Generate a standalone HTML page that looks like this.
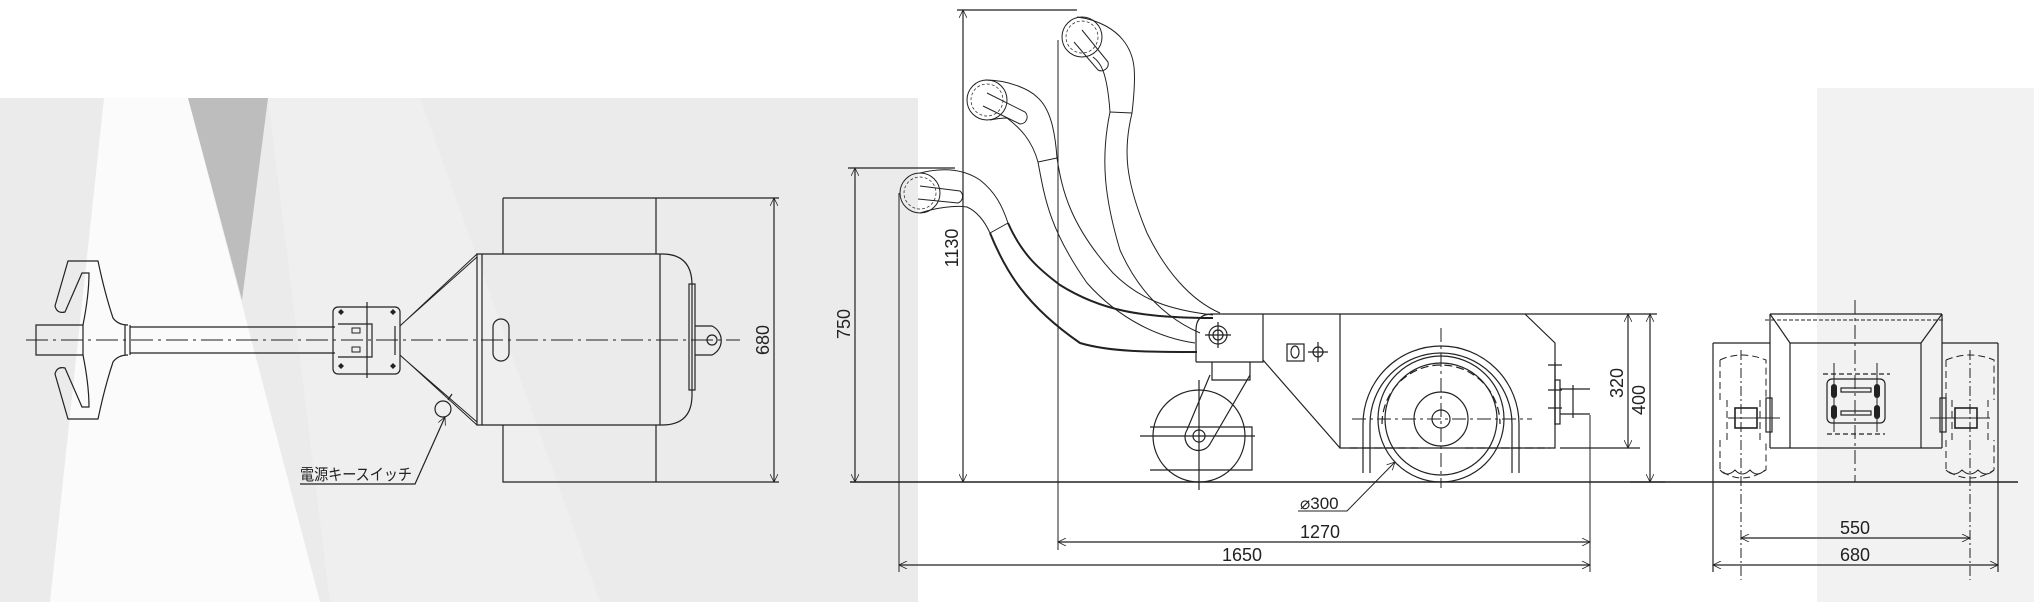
<!DOCTYPE html>
<html><head><meta charset="utf-8"><style>
html,body{margin:0;padding:0;background:#fff;}
svg{display:block;}
text{font-family:"Liberation Sans","Noto Sans CJK JP",sans-serif;fill:#222;}
</style></head><body>
<svg width="2034" height="602" viewBox="0 0 2034 602" xmlns="http://www.w3.org/2000/svg">
<defs>
<marker id="a" viewBox="0 0 10 10" refX="10" refY="5" markerWidth="10" markerHeight="8" orient="auto-start-reverse" markerUnits="userSpaceOnUse"><path d="M0,0 L10,5 L0,10" fill="none" stroke="#222" stroke-width="1"/></marker>
</defs>
<!-- backgrounds -->
<rect x="0" y="98" width="918" height="504" fill="#ebebeb"/>
<polygon points="104,98 188,98 320,602 50,602" fill="#fbfbfb"/>
<polygon points="188,98 268,98 242,300" fill="#bdbdbd"/>
<polygon points="268,98 420,98 600,602 330,602" fill="#efefef"/>
<rect x="1817" y="88" width="217" height="514" fill="#f2f2f2"/>

<g fill="none" stroke="#222" stroke-width="1.2">
<!-- ===== LEFT VIEW ===== -->
<line x1="26" y1="340" x2="740" y2="340" stroke-dasharray="22,5,3,5" stroke-width="1"/>
<path d="M36,325 H83 V355 H36 Z"/>
<path d="M130,327 H335 M130,353 H335 M125,325 V355 M130,325 V355"/>
<path d="M83,325 C86,310 89,290 89,273 H82 L65,312 Q57,314 55,306 L68,261 H98 C102,280 107,300 113,318 Q118,325 128,325"/>
<path d="M83,355 C86,370 89,390 89,407 H82 L65,368 Q57,366 55,374 L68,419 H98 C102,400 107,380 113,362 Q118,355 128,355"/>
<rect x="333" y="307" width="67" height="67" rx="5"/>
<path d="M367,302 V378 M338,324 H372 V357 H338 M395,326 V355"/>
<rect x="352" y="328" width="8" height="5" stroke-width="1"/><rect x="352" y="347" width="8" height="5" stroke-width="1"/>
<g fill="#222" stroke="none"><path d="M341,309 l3,3 -3,3 -3,-3z M393,309 l3,3 -3,3 -3,-3z M341,363 l3,3 -3,3 -3,-3z M393,363 l3,3 -3,3 -3,-3z"/></g>
<path d="M400,326 L477,254 M400,355 L477,425 M402,324 L477,257 M402,357 L477,422" stroke-width="1"/>
<path d="M477,254 H662 Q692,254 692,285 V395 Q692,425 662,425 H477 Z"/>
<path d="M482,254 V425 M660,254 V425"/>
<rect x="689" y="284" width="6" height="106"/>
<path d="M695,326 H712 A16,16 0 0 1 712,355 H695"/>
<circle cx="712" cy="340" r="5"/>
<rect x="493" y="319" width="16" height="42" rx="8"/>
<path d="M503,198 H656 V254 M503,198 V254 M503,425 V482 H656 V425 M656,198 H779 M656,482 H779"/>
<line x1="774" y1="198" x2="774" y2="482" marker-start="url(#a)" marker-end="url(#a)"/>
<circle cx="443" cy="409" r="8"/>
<path d="M448,400 L452,394"/>
<path d="M445,417 L415,484 H300" marker-start="url(#a)"/>

<!-- ===== SIDE VIEW ===== -->
<line x1="850" y1="482" x2="2018" y2="482" stroke-width="1.6"/>
<path d="M848,168 H955 M957,10 H1077"/>
<line x1="855" y1="168" x2="855" y2="482" marker-start="url(#a)" marker-end="url(#a)"/>
<line x1="963" y1="10" x2="963" y2="482" marker-start="url(#a)" marker-end="url(#a)"/>
<path d="M899,193 V572 M1058,40 V550 M1590,415 V572" stroke-width="1"/>
<line x1="1058" y1="542" x2="1590" y2="542" marker-start="url(#a)" marker-end="url(#a)"/>
<line x1="899" y1="565" x2="1590" y2="565" marker-start="url(#a)" marker-end="url(#a)"/>
<!-- handles -->
<g stroke-width="1">
<circle cx="920" cy="193" r="20"/><circle cx="920" cy="193" r="16" stroke-dasharray="3,2" stroke-width="0.7"/>
<path d="M920,173 C940,168 962,168 980,180 C995,192 1002,205 1008,223 M920,213 C935,208 955,205 967,207 C978,212 985,222 990,233"/>
<path d="M920,186 L960,191 A7,7 0 0 1 958,203 L918,199" />
<path d="M1008,223 C1022,255 1040,270 1060,285 C1100,310 1140,318 1213,318 M990,233 C1005,270 1025,305 1080,343 C1110,352 1150,352 1197,352" stroke-width="2"/>
<path d="M990,233 L1008,223"/>
<circle cx="987" cy="100" r="20"/><circle cx="987" cy="100" r="16" stroke-dasharray="3,2" stroke-width="0.7"/>
<path d="M985,80 C1010,80 1030,90 1037,97 C1050,108 1055,130 1057,158 M990,120 C1000,118 1005,118 1007,118 C1020,128 1032,140 1038,162"/>
<path d="M987,93 L1025,112 A7,7 0 0 1 1020,124 L983,106"/>
<path d="M1057,158 C1062,190 1070,225 1113,273 C1140,300 1170,310 1213,315 M1038,162 C1045,200 1050,230 1087,283 C1120,320 1160,338 1195,343"/>
<path d="M1038,162 L1057,158"/>
<circle cx="1082" cy="37" r="20"/><circle cx="1082" cy="37" r="16" stroke-dasharray="3,2" stroke-width="0.7"/>
<path d="M1077,17 C1100,20 1115,30 1123,40 C1135,55 1137,70 1132,113 M1093,57 C1100,62 1107,70 1110,112"/>
<path d="M1082,30 L1108,62 A7,7 0 0 1 1098,70 L1074,42"/>
<path d="M1132,113 C1123,150 1125,180 1147,233 C1165,270 1190,300 1220,313 M1110,112 C1100,160 1105,200 1120,250 C1140,295 1170,320 1200,333"/>
<path d="M1110,112 L1132,113"/>
</g>
<!-- body -->
<path d="M1210,314 H1657 M1196,362 V330 Q1196,314 1212,314 M1196,362 H1263 V314 M1340,314 V448 H1555 V343 L1525,314"/>
<path d="M1263,360 L1340,448"/>
<circle cx="1218" cy="335" r="9"/><circle cx="1218" cy="335" r="5"/><path d="M1218,322 V348 M1205,335 H1231"/>
<rect x="1287" y="344" width="17" height="17"/><ellipse cx="1295" cy="352" rx="4" ry="6"/>
<circle cx="1318" cy="352" r="5"/><path d="M1318,342 V362 M1308,352 H1328"/>
<!-- caster -->
<path d="M1212,362 V380 H1250 V362"/>
<path d="M1210,375 L1187,430 A12,12 0 0 0 1210,444 L1250,375"/>
<circle cx="1199" cy="436" r="46"/>
<circle cx="1199" cy="436" r="6"/>
<path d="M1150,427 H1252 V470 H1150 M1140,436 H1255 M1199,380 V490"/>
<!-- drive wheel -->
<circle cx="1441" cy="419" r="63"/>
<circle cx="1441" cy="419" r="56"/>
<circle cx="1441" cy="419" r="27"/><circle cx="1441" cy="419" r="9"/>
<path d="M1363,473 V424 A78,78 0 0 1 1519,424 V473"/>
<path d="M1370,473 V424 A71,71 0 0 1 1512,424 V473"/>
<path d="M1382,424 A59,59 0 0 1 1500,424" stroke-dasharray="8,4"/>
<path d="M1350,448 H1420 M1465,448 H1550" stroke-dasharray="8,4"/>
<path d="M1352,419 H1532 M1441,328 V488" stroke-dasharray="14,4,3,4" stroke-width="1"/>
<!-- hitch -->
<path d="M1555,362 V425 M1548,365 H1562 M1548,390 H1562 M1548,408 H1562"/>
<rect x="1555" y="380" width="5" height="44"/>
<path d="M1560,389 H1590 M1560,414 H1590 M1573,385 V418"/>
<!-- 320 / 400 -->
<path d="M1560,448 H1640 M1630,482 H1665"/>
<line x1="1628" y1="314" x2="1628" y2="448" marker-start="url(#a)" marker-end="url(#a)"/>
<line x1="1650" y1="314" x2="1650" y2="482" marker-start="url(#a)" marker-end="url(#a)"/>
<!-- dia 300 leader -->
<path d="M1298,511 H1347 L1395,462" marker-end="url(#a)" stroke-width="1"/>

<!-- ===== FRONT VIEW ===== -->
<path d="M1770,314 H1942 M1770,314 L1790,343 M1942,314 L1921,343 M1770,314 V448 M1942,314 V448 M1770,448 H1942 M1790,343 H1921 M1790,343 V448 M1921,343 V448"/>
<path d="M1765,320 H1945" stroke-dasharray="4,2" stroke-width="1"/>
<path d="M1713,343 H1770 M1942,343 H1998 M1713,343 V572 M1998,343 V572"/>
<path d="M1855,300 V482" stroke-dasharray="14,4,3,4" stroke-width="1"/>
<g stroke-dasharray="7,4" stroke-width="1">
<path d="M1720,360 Q1741,350 1766,360 V400 M1720,360 V400 M1720,440 V470 Q1741,486 1766,470 V440"/>
<path d="M1946,360 Q1970,350 1994,360 V400 M1946,360 V400 M1946,440 V470 Q1970,486 1994,470 V440"/>
<path d="M1727,400 V440 M1760,400 V440 M1952,400 V440 M1988,400 V440"/>
</g>
<path d="M1720,470 q7,8 15,0 q7,8 15,0 q7,8 15,0 M1946,470 q8,8 16,0 q8,8 16,0 q8,8 16,0" stroke-width="1"/>
<path d="M1741,350 V580 M1970,350 V580" stroke-dasharray="10,3,2,3" stroke-width="1"/>
<path d="M1728,418 H1780 M1930,418 H1990" stroke-width="1"/>
<rect x="1735" y="408" width="22" height="20" stroke-width="1.6"/>
<rect x="1955" y="408" width="22" height="20" stroke-width="1.6"/>
<rect x="1766" y="398" width="6" height="34"/><rect x="1940" y="398" width="6" height="34"/>
<rect x="1827" y="379" width="58" height="44" rx="5"/>
<path d="M1834,363 V432 M1877,363 V432" stroke-width="1"/>
<path d="M1823,374 H1890 M1827,434 H1885" stroke-dasharray="5,3"/>
<rect x="1841" y="388" width="30" height="4"/><rect x="1841" y="411" width="30" height="4"/>
<g fill="#222" stroke="none"><rect x="1831" y="384" width="6" height="14" rx="3"/><rect x="1874" y="384" width="6" height="14" rx="3"/><rect x="1831" y="405" width="6" height="14" rx="3"/><rect x="1874" y="405" width="6" height="14" rx="3"/></g>
<line x1="1741" y1="538" x2="1970" y2="538" marker-start="url(#a)" marker-end="url(#a)"/>
<line x1="1713" y1="565" x2="1998" y2="565" marker-start="url(#a)" marker-end="url(#a)"/>
</g>

<!-- texts -->
<text x="300" y="480" font-size="16" textLength="112" lengthAdjust="spacingAndGlyphs">電源キースイッチ</text>
<text transform="translate(769,340) rotate(-90)" font-size="18" text-anchor="middle">680</text>
<text transform="translate(850,324) rotate(-90)" font-size="18" text-anchor="middle">750</text>
<text transform="translate(958,248) rotate(-90)" font-size="18" text-anchor="middle">1130</text>
<text transform="translate(1623,383) rotate(-90)" font-size="18" text-anchor="middle">320</text>
<text transform="translate(1645,400) rotate(-90)" font-size="18" text-anchor="middle">400</text>
<text x="1300" y="509" font-size="17">⌀300</text>
<text x="1320" y="538" font-size="18" text-anchor="middle">1270</text>
<text x="1242" y="561" font-size="18" text-anchor="middle">1650</text>
<text x="1855" y="534" font-size="18" text-anchor="middle">550</text>
<text x="1855" y="561" font-size="18" text-anchor="middle">680</text>
</svg>
</body></html>
